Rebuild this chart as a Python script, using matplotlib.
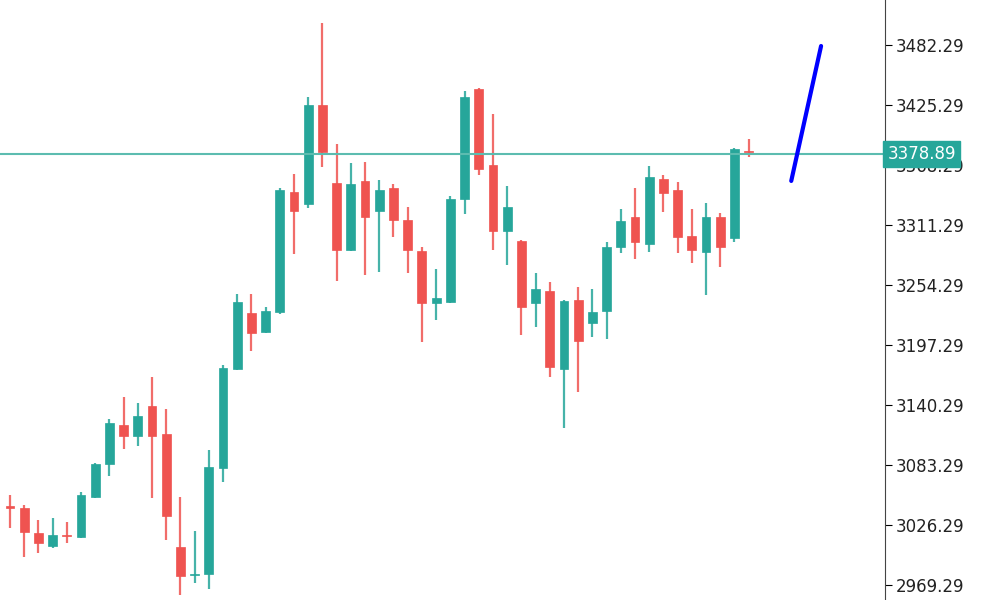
import numpy as np
import matplotlib
matplotlib.use('Agg')
import matplotlib.pyplot as plt

# OHLC
opens = [3044.3, 3042.4, 3018.7, 3006.3, 3016.3, 3014.9, 3052.9, 3084.2, 3121.3, 3110.8,
         3139.3, 3112.7, 3005.4, 2978.3, 2979.7, 3080.4, 3174.5, 3227.7, 3209.6, 3228.6,
         3342.6, 3331.2, 3425.3, 3351.2, 3287.5, 3353.1, 3324.6, 3346.4, 3316.0, 3286.6,
         3237.2, 3238.1, 3336.0, 3440.5, 3368.3, 3305.6, 3296.1, 3237.2, 3248.6, 3174.5,
         3240.0, 3218.2, 3229.6, 3290.4, 3318.9, 3293.2, 3355.0, 3344.5, 3300.8, 3285.6,
         3318.9, 3298.9, 3381.6]
highs = [3054.8, 3045.3, 3031.0, 3032.9, 3029.1, 3057.6, 3085.2, 3127.0, 3147.9, 3142.2,
         3166.9, 3136.5, 3052.9, 3020.6, 3097.5, 3178.3, 3245.7, 3245.7, 3233.4, 3346.0,
         3359.7, 3432.9, 3503.2, 3388.2, 3370.2, 3371.1, 3354.0, 3350.2, 3328.4, 3290.4,
         3269.5, 3338.8, 3438.6, 3441.5, 3416.7, 3348.3, 3297.0, 3265.7, 3257.1, 3240.0,
         3252.4, 3250.5, 3295.1, 3326.5, 3346.4, 3367.3, 3358.8, 3352.1, 3326.5, 3332.2,
         3322.7, 3384.5, 3393.0]
lows = [3023.4, 2995.9, 2999.7, 3004.4, 3009.2, 3014.0, 3051.9, 3072.8, 3098.5, 3101.3,
        3051.9, 3012.0, 2959.8, 2971.2, 2965.5, 3067.1, 3173.5, 3191.6, 3208.7, 3227.0,
        3283.7, 3327.4, 3366.4, 3258.1, 3286.5, 3263.8, 3266.6, 3299.9, 3265.7, 3200.1,
        3221.0, 3237.1, 3321.7, 3358.8, 3287.5, 3273.3, 3206.8, 3214.4, 3166.9, 3118.4,
        3152.6, 3204.9, 3203.0, 3284.7, 3279.0, 3285.6, 3323.6, 3284.7, 3275.2, 3244.8,
        3271.4, 3295.1, 3375.9]
closes = [3042.4, 3019.6, 3009.2, 3016.8, 3015.4, 3054.8, 3084.2, 3123.2, 3110.8, 3129.8,
          3110.8, 3034.8, 2977.8, 2979.3, 3081.4, 3175.4, 3238.1, 3208.7, 3229.6, 3344.5,
          3324.6, 3425.3, 3380.6, 3287.5, 3350.2, 3318.9, 3344.5, 3316.0, 3287.5, 3237.2,
          3241.9, 3336.0, 3432.9, 3364.5, 3305.6, 3328.4, 3233.4, 3250.5, 3176.4, 3239.1,
          3201.1, 3228.6, 3290.4, 3315.1, 3295.1, 3356.9, 3341.7, 3299.9, 3287.5, 3318.9,
          3290.4, 3383.5, 3380.6]

current_price = 3378.89
tick_prices = [2969.29, 3026.29, 3083.29, 3140.29, 3197.29, 3254.29, 3311.29, 3368.29, 3425.29, 3482.29]
trend_x = [55.0, 57.1]
trend_y = [3353.1, 3481.3]

up_col = '#26a69a'
down_col = '#ef5350'

fig = plt.figure(figsize=(10, 6), dpi=100)
ax = fig.add_axes([0.0, 0.0, 0.885, 1.0])

for i in range(len(opens)):
    o, h, l, c = opens[i], highs[i], lows[i], closes[i]
    col = up_col if c >= o else down_col
    ax.vlines(i, l, h, color=col, linewidth=1.6, alpha=0.85)
    bot = min(o, c)
    hgt = max(abs(c - o), 1.2)
    ax.bar(i, hgt, bottom=bot, width=0.62, color=col, edgecolor=col, linewidth=0.5)

ax.axhline(current_price, color='#5cbcb0', linewidth=1.5)
ax.plot(trend_x, trend_y, color='#0000ff', linewidth=3, solid_capstyle='round')

ax.set_xlim(-0.7, 61.6)
ax.set_ylim(2955, 3525)
ax.yaxis.tick_right()
ax.set_yticks(tick_prices)
ax.set_yticklabels(['%.2f' % t for t in tick_prices], fontsize=12, color='#222222')
ax.tick_params(axis='y', length=5, direction='out', pad=3)
ax.set_xticks([])
for s in ['top', 'left', 'bottom']:
    ax.spines[s].set_visible(False)
ax.spines['right'].set_color('#444444')

ax.text(1.003, current_price, '%.2f' % current_price, transform=ax.get_yaxis_transform(),
        va='center', ha='left', fontsize=12, color='white',
        bbox=dict(boxstyle='square,pad=0.25', facecolor='#26a69a', edgecolor='#26a69a'))

fig.savefig('out.png', dpi=100)
